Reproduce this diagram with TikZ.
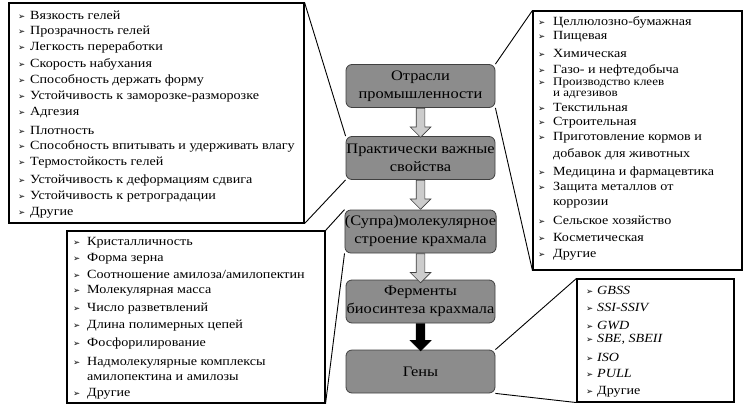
\documentclass[tikz,border=0pt]{standalone}
\usepackage{fontspec}
\setmainfont{Liberation Serif}[FakeStretch=1.13]
\newfontfamily\symfont{DejaVu Sans}
\usetikzlibrary{shapes.arrows}
\newcommand{\mk}[1][13pt]{\makebox[#1][l]{\symfont\fontsize{8.5}{9}\selectfont ➢}}

\begin{document}
\begin{tikzpicture}[x=1pt,y=-1pt,
  stage/.style={draw=black!75, fill=black!45, line width=0.8pt, rounded corners=6pt, minimum width=149pt, minimum height=43pt, align=center, inner sep=0pt, font=\fontsize{14.5}{18}\selectfont},
  listbox/.style={draw=black, line width=1.1pt, inner sep=0pt},
  item/.style={anchor=west, inner sep=0pt, align=left, font=\fontsize{12.5}{15}\selectfont},
  link/.style={draw=black, line width=0.9pt},
  flow/.style={single arrow, draw=black!75, fill=black!20, line width=0.7pt, rotate=-90, anchor=tail, inner sep=4pt, minimum width=20pt, minimum height=29pt, single arrow head extend=6pt}
]
\useasboundingbox (0,0) rectangle (744,407);

% central chain
\node (ind) [stage] at (420.5,86) {Отрасли\\промышленности};
\node (props) [stage] at (420.5,158) {Практически важные\\свойства};
\node (struct) [stage] at (420.5,231.5) {(Супра)молекулярное\\строение крахмала};
\node (enz) [stage] at (420.5,301.5) {Ферменты\\биосинтеза крахмала};
\node (genes) [stage] at (420.5,371.5) {Гены};
\node (a1) [flow] at (ind.south) {};
\node (a2) [flow] at (props.south) {};
\node (a3) [flow] at (struct.south) {};
\node (a4) [flow, fill=black, draw=black, minimum height=27pt] at (enz.south) {};

% list boxes
\node (propbox) [listbox, minimum width=295pt, minimum height=220pt] at (156.5,113) {};
\node (indbox) [listbox, minimum width=209pt, minimum height=259pt] at (637.5,140.5) {};
\node (structbox) [listbox, minimum width=258pt, minimum height=172pt] at (196,317) {};
\node (genebox) [listbox, minimum width=157pt, minimum height=123pt] at (655.5,340.5) {};

\draw [link] (propbox.north east) -- (props.north west);
\draw [link] (propbox.south east) -- (props.south west);
\draw [link] (indbox.north west) -- (ind.north east);
\draw [link] (indbox.south west) -- (ind.south east);
\draw [link] (structbox.north east) -- (struct.north west);
\draw [link] (structbox.south east) -- (struct.south west);
\draw [link] (genebox.north west) -- (genes.north east);
\draw [link] (genebox.south west) -- (genes.south east);

% properties
\node (p1) [item] at (18,15) {\mk[12pt]Вязкость гелей};
\node (p2) [item] at (18,31.7) {\mk[12pt]Прозрачность гелей};
\node (p3) [item] at (18,47.7) {\mk[12pt]Легкость переработки};
\node (p4) [item] at (18,64) {\mk[12pt]Скорость набухания};
\node (p5) [item] at (18,80) {\mk[12pt]Способность держать форму};
\node (p6) [item] at (18,96.7) {\mk[12pt]Устойчивость к заморозке-разморозке};
\node (p7) [item] at (18,113) {\mk[12pt]Адгезия};
\node (p8) [item] at (18,130) {\mk[12pt]Плотность};
\node (p9) [item] at (18,146.7) {\mk[12pt]Способность впитывать и удерживать влагу};
\node (p10) [item] at (18,163) {\mk[12pt]Термостойкость гелей};
\node (p11) [item] at (18,180) {\mk[12pt]Устойчивость к деформациям сдвига};
\node (p12) [item] at (18,196.7) {\mk[12pt]Устойчивость к ретроградации};
\node (p13) [item] at (18,213) {\mk[12pt]Другие};

% industries
\node (i1) [item] at (538,22.7) {\mk[15pt]Целлюлозно-бумажная};
\node (i2) [item] at (538,37) {\mk[15pt]Пищевая};
\node (i3) [item] at (538,53) {\mk[15pt]Химическая};
\node (i4) [item] at (538,70) {\mk[15pt]Газо- и нефтедобыча};
\node (i5) [item, font=\fontsize{11.5}{11}\selectfont] at (538,88.5) {\mk[15pt]Производство клеев\\\hspace*{15pt}и адгезивов};
\node (i6) [item] at (538,107.5) {\mk[15pt]Текстильная};
\node (i7) [item] at (538,123) {\mk[15pt]Строительная};
\node (i8) [item, font=\fontsize{12.5}{17}\selectfont] at (538,146.5) {\mk[15pt]Приготовление кормов и\\\hspace*{15pt}добавок для животных};
\node (i9) [item] at (538,172) {\mk[15pt]Медицина и фармацевтика};
\node (i10) [item] at (538,195.5) {\mk[15pt]Защита металлов от\\\hspace*{15pt}коррозии};
\node (i11) [item] at (538,220) {\mk[15pt]Сельское хозяйство};
\node (i12) [item] at (538,237) {\mk[15pt]Косметическая};
\node (i13) [item] at (538,255) {\mk[15pt]Другие};

% structure
\node (s1) [item] at (73,243) {\mk[14pt]Кристалличность};
\node (s2) [item] at (73,259) {\mk[14pt]Форма зерна};
\node (s3) [item] at (73,274) {\mk[14pt]Соотношение амилоза/амилопектин};
\node (s4) [item] at (73,291) {\mk[14pt]Молекулярная масса};
\node (s5) [item] at (73,309) {\mk[14pt]Число разветвлений};
\node (s6) [item] at (73,326) {\mk[14pt]Длина полимерных цепей};
\node (s7) [item] at (73,343) {\mk[14pt]Фосфорилирование};
\node (s8) [item] at (73,368.5) {\mk[14pt]Надмолекулярные комплексы\\\hspace*{14pt}амилопектина и амилозы};
\node (s9) [item] at (73,394) {\mk[14pt]Другие};

% genes
\node (g1) [item] at (586,290) {\mk[11pt]\textit{GBSS}};
\node (g2) [item] at (586,307) {\mk[11pt]\textit{SSI-SSIV}};
\node (g3) [item] at (586,325) {\mk[11pt]\textit{GWD}};
\node (g4) [item] at (586,339) {\mk[11pt]\textit{SBE, SBEII}};
\node (g5) [item] at (586,357) {\mk[11pt]\textit{ISO}};
\node (g6) [item] at (586,373) {\mk[11pt]\textit{PULL}};
\node (g7) [item] at (586,392) {\mk[11pt]Другие};
\end{tikzpicture}
\end{document}
